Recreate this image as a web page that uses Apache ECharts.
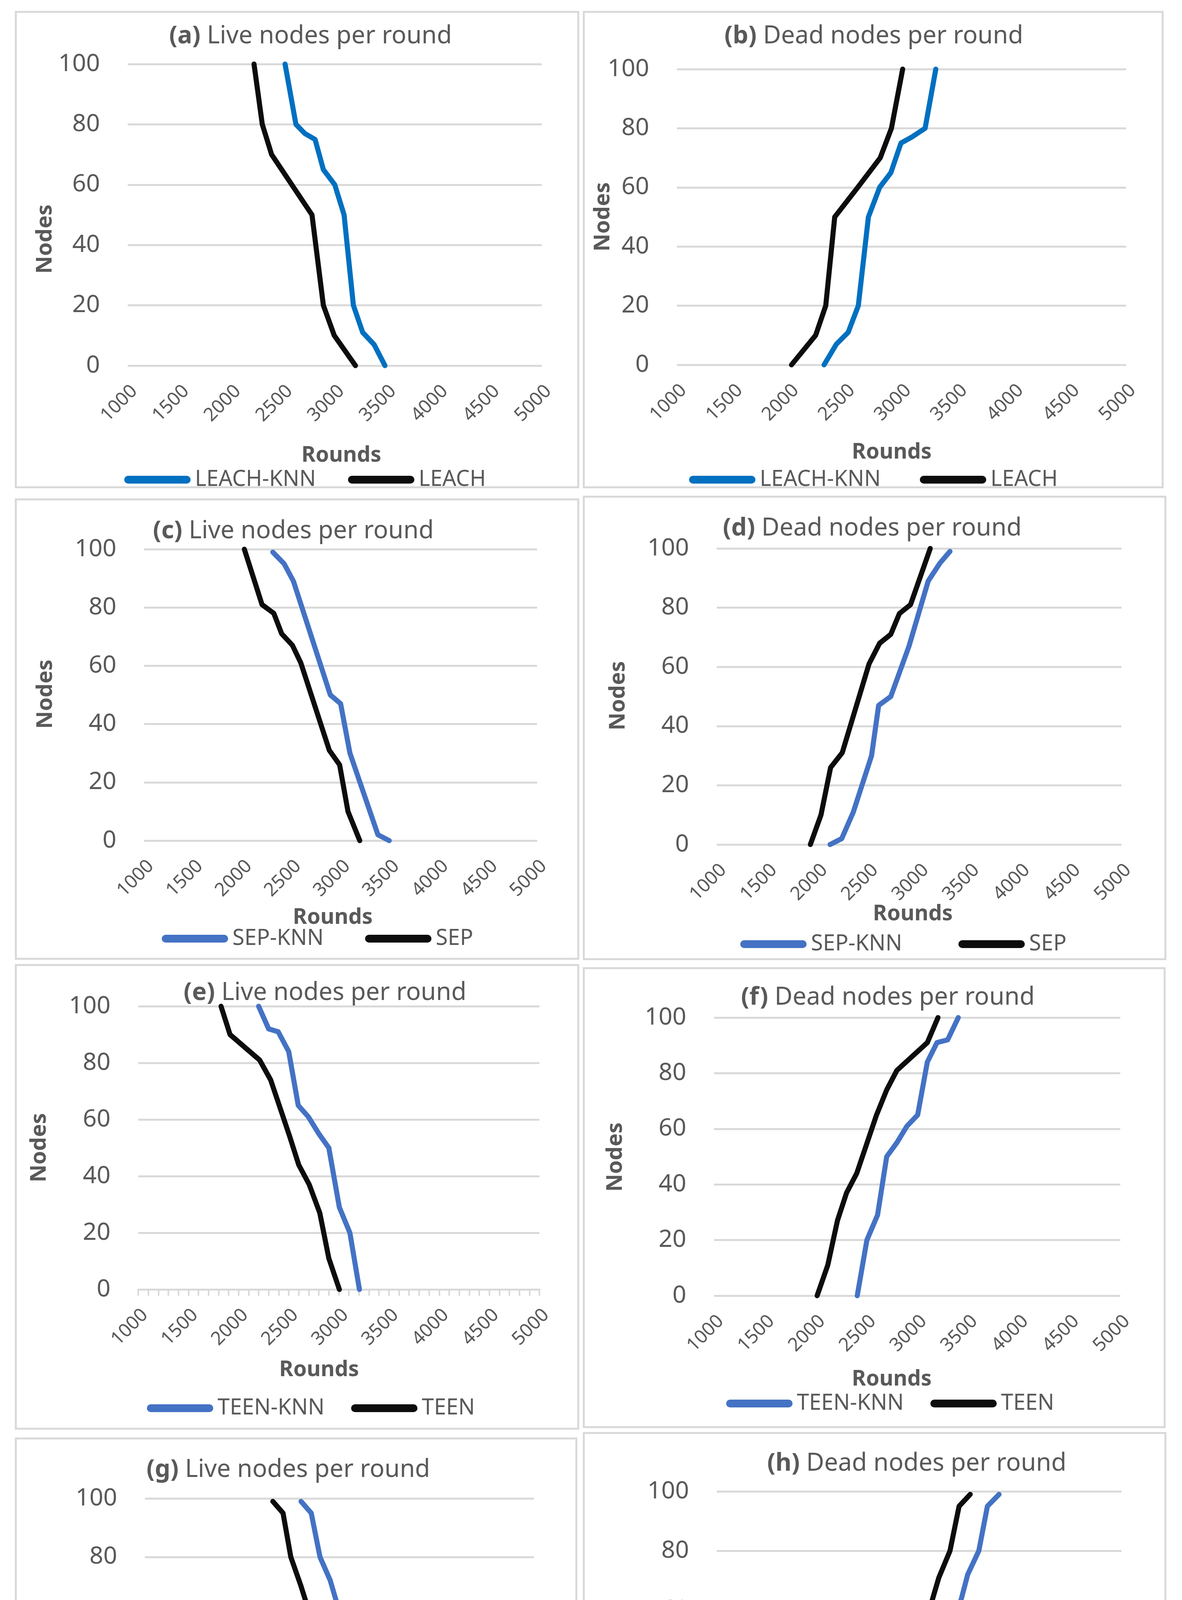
<!DOCTYPE html>
<html>
<head>
<meta charset="utf-8">
<script src="https://cdn.jsdelivr.net/npm/echarts@6/dist/echarts.min.js"></script>
<style>
  html, body { margin: 0; padding: 0; background: #ffffff; }
  .frame { position: absolute; box-sizing: border-box; border: 5px solid #D9D9D9; }
  .chart { position: absolute; }
</style>
</head>
<body>
<div id="page" style="position:relative;width:3026px;height:4939px;"></div>
<script>
// rounds / nodes pairs
var leachKnnLive = [[2520,100],[2625,80],[2710,77],[2810,75],[2890,65],[3000,60],[3090,50],[3180,20],[3270,11],[3380,7],[3485,0]];
var leachLive    = [[2220,100],[2300,80],[2390,70],[2780,50],[2890,20],[2995,10],[3200,0]];
var leachKnnDead = [[2310,0],[2420,7],[2525,11],[2615,20],[2705,50],[2805,60],[2905,65],[2995,75],[3090,77],[3210,80],[3305,100]];
var leachDead    = [[2020,0],[2235,10],[2325,20],[2405,50],[2610,60],[2810,70],[2910,80],[3010,100]];

var sepKnnLive = [[2310,99],[2425,95],[2520,89],[2895,50],[3000,47],[3095,30],[3380,2],[3495,0]];
var sepLive    = [[2020,100],[2200,81],[2320,78],[2400,71],[2510,67],[2595,61],[2885,31],[2990,26],[3075,10],[3195,0]];
var sepKnnDead = [[2120,0],[2235,2],[2350,11],[2530,30],[2600,47],[2720,50],[2900,67],[3090,89],[3205,95],[3305,99]];
var sepDead    = [[1925,0],[2030,10],[2125,26],[2240,31],[2505,61],[2610,68],[2720,71],[2805,78],[2915,81],[3110,100]];

var teenKnnLive = [[2200,100],[2300,92],[2395,91],[2500,84],[2595,65],[2695,61],[2800,55],[2900,50],[3005,29],[3110,20],[3205,0]];
var teenLive    = [[1825,100],[1915,90],[2210,81],[2320,74],[2510,54],[2600,44],[2705,37],[2810,27],[2900,11],[3005,0]];
var teenKnnDead = [[2410,0],[2505,20],[2610,29],[2700,50],[2800,55],[2900,61],[3005,65],[3100,84],[3195,91],[3300,92],[3405,100]];
var teenDead    = [[2015,0],[2120,11],[2215,27],[2305,37],[2405,44],[2600,65],[2700,74],[2800,81],[3100,91],[3205,100]];

var decKnnLive = [[2605,99],[2710,95],[2800,80],[2905,72],[3090,51],[3195,50],[3290,44],[3395,43],[3590,22],[3680,0]];
var decLive    = [[2315,99],[2420,95],[2500,80],[2605,70],[2700,60],[3105,40],[3185,30],[3290,22],[3390,10],[3495,0]];
var decKnnDead = [[2700,0],[2800,22],[2895,30],[2995,43],[3090,44],[3185,50],[3290,51],[3395,61],[3480,72],[3590,80],[3675,95],[3790,99]];
var decDead    = [[2310,0],[2400,10],[2495,22],[2600,30],[2695,40],[2915,52],[3100,60],[3195,71],[3305,80],[3395,95],[3505,99]];

var roundMin = 1000, roundMax = 5000, roundStep = 500;
var nodeMin = 0, nodeMax = 100, nodeStep = 20;

var FONT = 'Noto Sans';
var TEXT = '#595959';
var GRID = '#D9D9D9';
var BLACK = '#0D0D0D';

// layout per panel: frame [x,y,w,h], grid [l,t,w,h], centres of texts inside the frame
var panels = [
  { tag:'(a)', title:'Live nodes per round', frame:[38,28,1445,1222], grid:[289,136,1060,772],
    titleAt:[757,65], yNameAt:[78,584], xNameAt:[836,1138], legendAt:[275,1195], legendGap:82,
    names:['LEACH-KNN','LEACH'], colors:['#0070C0',BLACK], data:[leachKnnLive, leachLive] },
  { tag:'(b)', title:'Dead nodes per round', frame:[1492,28,1487,1222], grid:[241,149,1150,757],
    titleAt:[745,65], yNameAt:[52,527], xNameAt:[791,1130], legendAt:[267,1195], legendGap:100,
    names:['LEACH-KNN','LEACH'], colors:['#0070C0',BLACK], data:[leachKnnDead, leachDead] },
  { tag:'(c)', title:'Live nodes per round', frame:[38,1276,1445,1181], grid:[331,130,1006,746],
    titleAt:[713,84], yNameAt:[79,501], xNameAt:[814,1073], legendAt:[371,1122], legendGap:106,
    names:['SEP-KNN','SEP'], colors:['#4472C4',BLACK], data:[sepKnnLive, sepLive] },
  { tag:'(d)', title:'Dead nodes per round', frame:[1492,1269,1494,1189], grid:[343,135,1036,758],
    titleAt:[741,84], yNameAt:[91,512], xNameAt:[845,1071], legendAt:[398,1143], legendGap:144,
    names:['SEP-KNN','SEP'], colors:['#4472C4',BLACK], data:[sepKnnDead, sepDead] },
  { tag:'(e)', title:'Live nodes per round', frame:[38,2468,1445,1192], grid:[316,108,1027,725],
    titleAt:[794,74], yNameAt:[63,470], xNameAt:[779,1039], legendAt:[333,1132], legendGap:68, ticks:true,
    names:['TEEN-KNN','TEEN'], colors:['#4472C4',BLACK], data:[teenKnnLive, teenLive] },
  { tag:'(f)', title:'Dead nodes per round', frame:[1492,2476,1492,1180], grid:[336,129,1040,712],
    titleAt:[781,78], yNameAt:[84,486], xNameAt:[791,1055], legendAt:[362,1112], legendGap:68,
    names:['TEEN-KNN','TEEN'], colors:['#4472C4',BLACK], data:[teenKnnDead, teenDead] },
  { tag:'(g)', title:'Live nodes per round', frame:[38,3680,1440,1212], grid:[333,156,996,749],
    titleAt:[700,83], yNameAt:[82,531], xNameAt:[819,1100], legendAt:[395,1168], legendGap:37,
    names:['DEC-KNN','DEC'], colors:['#4472C4',BLACK], data:[decKnnLive, decLive] },
  { tag:'(h)', title:'Dead nodes per round', frame:[1492,3666,1494,1228], grid:[343,152,1036,761],
    titleAt:[855,81], yNameAt:[91,534], xNameAt:[790,1109], legendAt:[346,1178], legendGap:93,
    names:['DEC-KNN','DEC'], colors:['#4472C4',BLACK], data:[decKnnDead, decDead] }
];

var legendIcon = 'path://M10,0 H160 A10,10 0 0 1 160,20 H10 A10,10 0 0 1 10,0 Z';

function buildOption(p) {
  var ticks = !!p.ticks;
  return {
    animation: false,
    textStyle: { fontFamily: FONT },
    grid: { left: p.grid[0], top: p.grid[1], width: p.grid[2], height: p.grid[3] },
    xAxis: {
      type: 'value', min: roundMin, max: roundMax, interval: roundStep,
      axisLine: { show: ticks, lineStyle: { color: GRID, width: 5 } },
      axisTick: { show: ticks, length: 16, lineStyle: { color: GRID, width: 4 } },
      minorTick: { show: ticks, splitNumber: 5, length: 16, lineStyle: { color: GRID, width: 4 } },
      splitLine: { show: false },
      axisLabel: {
        rotate: 45, margin: 41, verticalAlign: 'top',
        color: TEXT, fontSize: 48, fontFamily: FONT,
        formatter: function (v) { return String(v); }
      }
    },
    yAxis: {
      type: 'value', min: nodeMin, max: nodeMax, interval: nodeStep,
      axisLine: { show: false }, axisTick: { show: false },
      splitLine: { lineStyle: { color: GRID, width: 5 } },
      axisLabel: { margin: 71, color: TEXT, fontSize: 62, fontFamily: FONT }
    },
    legend: {
      left: p.legendAt[0], top: p.legendAt[1] - 32,
      itemWidth: 170, itemHeight: 20, itemGap: p.legendGap,
      icon: legendIcon, itemStyle: { borderWidth: 0 },
      data: p.names,
      textStyle: { color: TEXT, fontSize: 56, fontFamily: FONT, lineHeight: 64, padding: [0, 0, 0, 6] }
    },
    graphic: [
      { type: 'text', x: p.titleAt[0], y: p.titleAt[1],
        style: { text: '{b|' + p.tag + '} ' + p.title, fill: TEXT, fontSize: 63, fontFamily: FONT,
                 align: 'center', verticalAlign: 'middle',
                 rich: { b: { fontWeight: 'bold', fontSize: 63, fontFamily: FONT, fill: TEXT } } } },
      { type: 'text', x: p.yNameAt[0], y: p.yNameAt[1], rotation: Math.PI / 2,
        style: { text: 'Nodes', fill: TEXT, fontSize: 56, fontWeight: 'bold', fontFamily: FONT,
                 align: 'center', verticalAlign: 'middle' } },
      { type: 'text', x: p.xNameAt[0], y: p.xNameAt[1],
        style: { text: 'Rounds', fill: TEXT, fontSize: 55, fontWeight: 'bold', fontFamily: FONT,
                 align: 'center', verticalAlign: 'middle' } }
    ],
    series: p.data.map(function (d, i) {
      return {
        name: p.names[i], type: 'line', data: d,
        symbol: 'none', clip: false,
        color: p.colors[i],
        itemStyle: { color: p.colors[i] },
        lineStyle: { color: p.colors[i], width: 13, cap: 'round', join: 'round' }
      };
    })
  };
}

var page = document.getElementById('page');
panels.forEach(function (p) {
  var f = p.frame;
  var frame = document.createElement('div');
  frame.className = 'frame';
  frame.style.cssText = 'left:' + f[0] + 'px;top:' + f[1] + 'px;width:' + f[2] + 'px;height:' + f[3] + 'px;';
  page.appendChild(frame);

  var box = document.createElement('div');
  box.className = 'chart';
  box.style.cssText = 'left:' + f[0] + 'px;top:' + f[1] + 'px;width:' + f[2] + 'px;height:' + f[3] + 'px;';
  page.appendChild(box);

  var chart = echarts.init(box);
  chart.setOption(buildOption(p));
});
</script>
</body>
</html>
